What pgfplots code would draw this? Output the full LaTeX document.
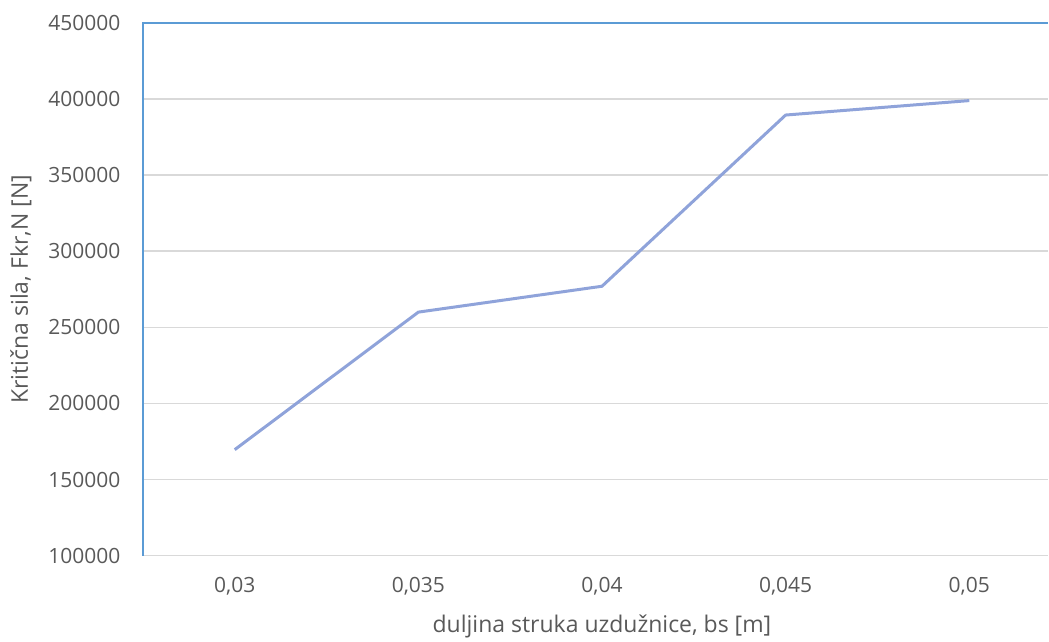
\documentclass[border=0pt]{standalone}
\usepackage{fontspec}
\setmainfont{Open Sans}
\usepackage{pgfplots}
\pgfplotsset{compat=1.18}
\definecolor{txt}{RGB}{89,89,89}
\definecolor{ser}{RGB}{143,163,218}
\definecolor{axblue}{RGB}{91,155,213}
\definecolor{grd}{RGB}{217,217,217}
\begin{document}
\begin{tikzpicture}
\begin{axis}[
  scale only axis,
  width=906pt, height=533pt,
  xmin=-0.5, xmax=4.43,
  ymin=100000, ymax=450000,
  ytick={100000,150000,...,450000},
  xtick={0,1,2,3,4},
  xticklabels={{0,03},{0,035},{0,04},{0,045},{0,05}},
  axis line style={draw=none},
  major tick length=0pt,
  ymajorgrids,
  grid style={grd, line width=1.5pt},
  scaled y ticks=false,
  /pgf/number format/assume math mode=true,
  yticklabel={\pgfmathprintnumber[fixed,1000 sep={}]{\tick}},
  tick label style={font=\fontsize{21}{22}\selectfont, text=txt},
  yticklabel style={xshift=-19pt},
  xticklabel style={yshift=-18pt},
  xlabel={duljina struka uzdužnice, bs [m]},
  ylabel={Kritična sila, Fkr,N [N]},
  label style={font=\fontsize{23}{25}\selectfont, text=txt},
  xlabel style={at={(axis description cs:0.507,0)}, anchor=north, yshift=-56pt},
  ylabel style={at={(axis description cs:0,0.5)}, anchor=south, yshift=108pt},
  clip=false,
]
\addplot[ser, line width=3pt] coordinates {
  (0,169600) (1,260000) (2,277000) (3,389500) (4,399000)
};
\draw[axblue, line width=1.5pt] (rel axis cs:0,0) -- (rel axis cs:0,1) -- (rel axis cs:1,1);
\end{axis}
\path[use as bounding box] ([xshift=-143pt,yshift=-83pt]current axis.south west) rectangle ([yshift=23pt]current axis.north east);
\end{tikzpicture}
\end{document}
